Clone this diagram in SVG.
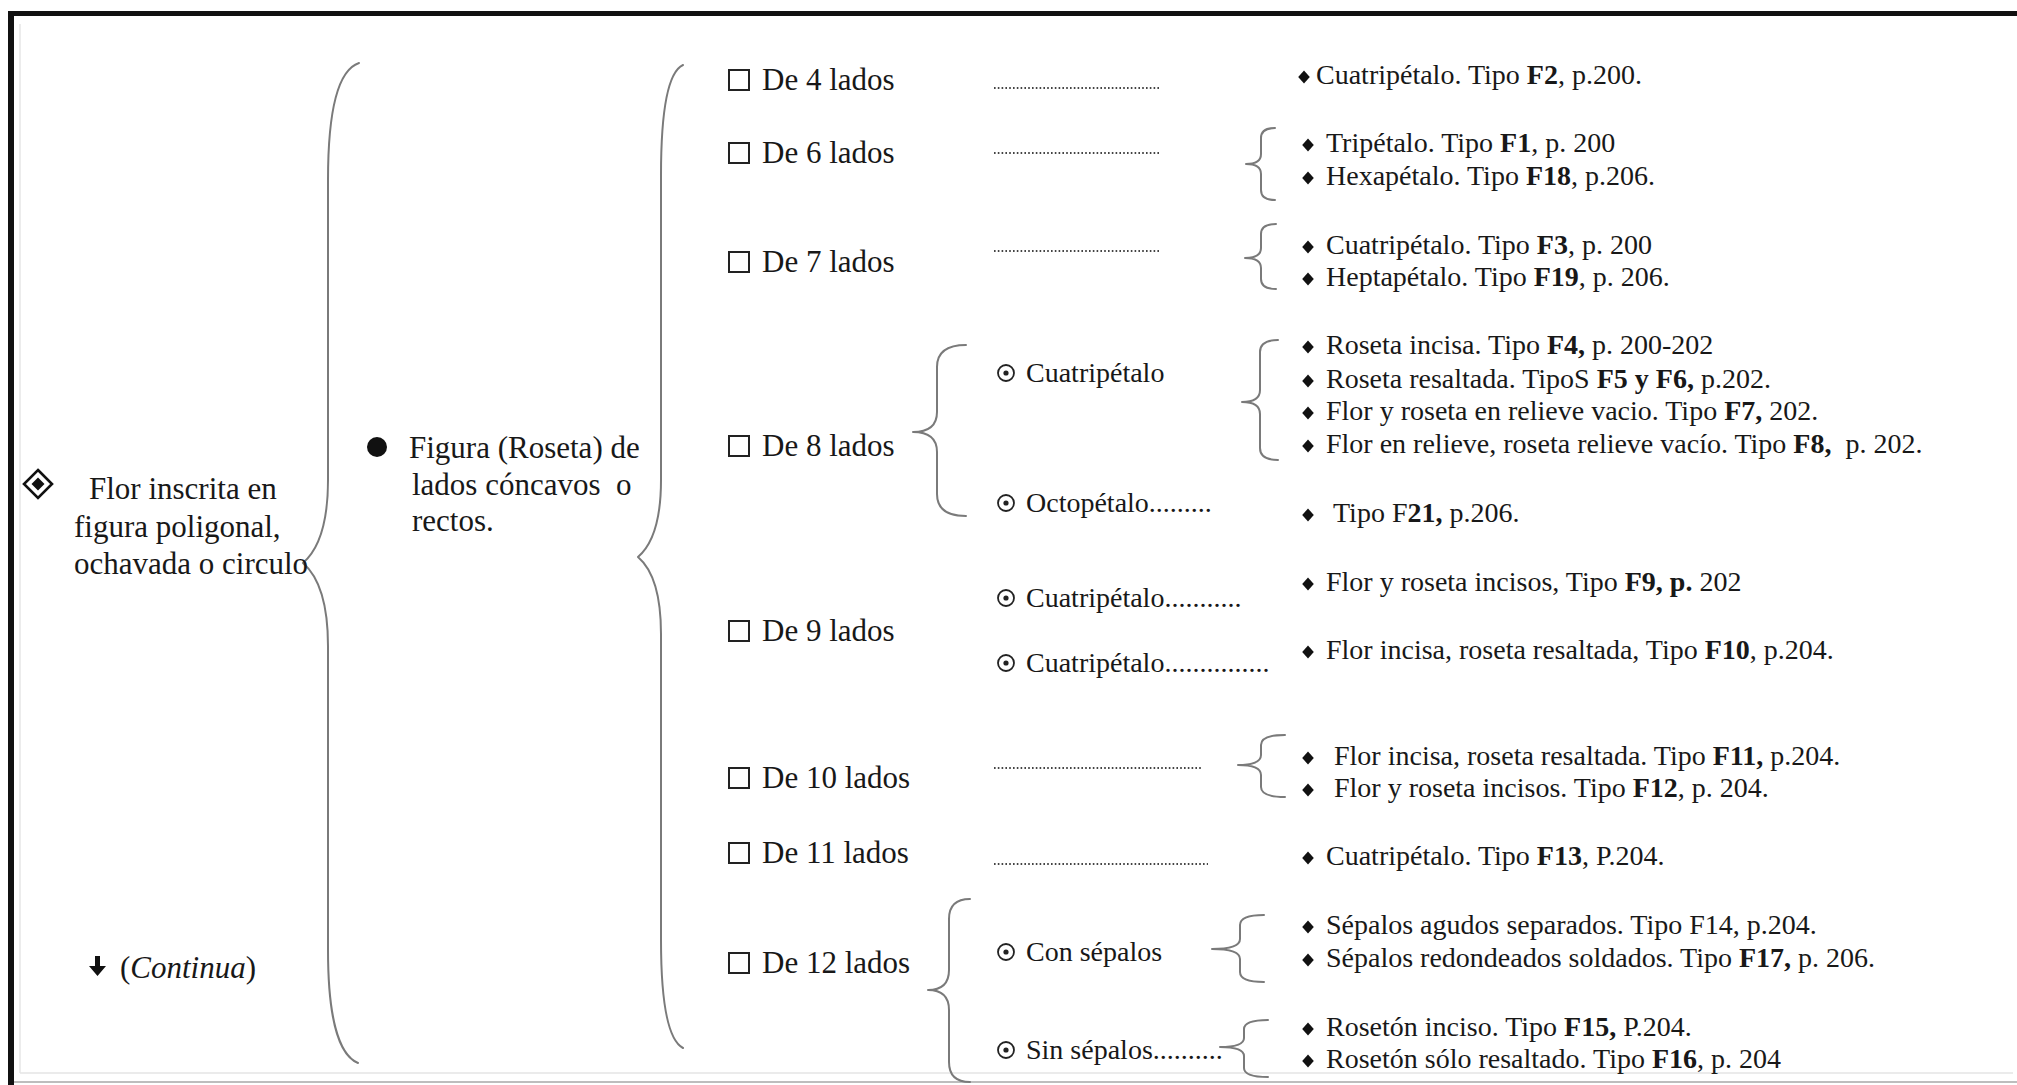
<svg xmlns="http://www.w3.org/2000/svg" xmlns:xlink="http://www.w3.org/1999/xlink" width="2017" height="1085" viewBox="0 0 2017 1085">
<style>
.t{font-family:"Liberation Serif","Times New Roman",serif;fill:#181818;white-space:pre}
.m{font-size:31px}
.s{font-size:28px}
.b{font-weight:bold}
.i{font-style:italic}
.brace{fill:none;stroke:#7a7a7a;stroke-width:2;stroke-linecap:round;stroke-linejoin:round}
.lead{stroke:#444;stroke-width:1.8;stroke-dasharray:1.6 2.2}
</style>
<defs>
<polygon id="dia" points="0,-6.5 5.8,0 0,6.5 -5.8,0" fill="#111"/>
<g id="odot"><circle r="8" fill="none" stroke="#222" stroke-width="1.8"/><circle r="2.6" fill="#222"/></g>
<rect id="sq" x="-10" y="-10" width="20" height="20" fill="none" stroke="#222" stroke-width="2"/>
</defs>
<rect width="2017" height="1085" fill="#fff"/>
<g id="frame">
<line x1="20" y1="1073" x2="2013" y2="1073" stroke="#e4e4e4" stroke-width="1.5"/>
<line x1="20" y1="24" x2="20" y2="1073" stroke="#e6e6e6" stroke-width="1.5"/>
<line x1="8" y1="1082" x2="2017" y2="1082" stroke="#bdbdbd" stroke-width="2"/>
<rect x="8" y="11" width="2009" height="5" fill="#111"/>
<rect x="8" y="11" width="6" height="1074" fill="#111"/>
</g>

<g id="connectors">
<path class="brace" d="M359,63 C338,70 328,110 328,180 L328,480 C328,525 318,550 303,563 C318,576 328,600 328,646 L328,950 C328,1015 338,1055 358,1063"/>
<path class="brace" d="M683,65 C668,72 661,110 661,175 L661,480 C661,522 652,545 638,557 C652,569 661,592 661,634 L661,940 C661,1005 668,1040 683,1048"/>
<path class="brace" d="M966,345 Q937,345 937,367 L937,412 Q937,432 913,432 Q937,432 937,452 L937,494 Q937,516 966,516"/>
<path class="brace" d="M970,899 Q949,899 949,919 L949,970 Q949,990 928,990 Q949,990 949,1010 L949,1062 Q949,1082 970,1082"/>
<path class="brace" d="M1275,128 Q1261,128 1261,138 L1261,154 Q1261,164 1246,164 Q1261,164 1261,174 L1261,190 Q1261,200 1275,200"/>
<path class="brace" d="M1276,224 Q1261,224 1261,234 L1261,248 Q1261,258 1245,258 Q1261,258 1261,268 L1261,279 Q1261,289 1276,289"/>
<path class="brace" d="M1278,340 Q1260,340 1260,352 L1260,390 Q1260,402 1242,402 Q1260,402 1260,414 L1260,448 Q1260,460 1278,460"/>
<path class="brace" d="M1285,735 Q1261,735 1261,745 L1261,755 Q1261,765 1238,765 Q1261,765 1261,775 L1261,787 Q1261,797 1285,797"/>
<path class="brace" d="M1264,915 Q1240,915 1240,925 L1240,939 Q1240,949 1212,949 Q1240,949 1240,959 L1240,972 Q1240,982 1264,982"/>
<path class="brace" d="M1268,1020 Q1244,1020 1244,1029 L1244,1038 Q1244,1047 1220,1047 Q1244,1047 1244,1056 L1244,1068 Q1244,1077 1268,1077"/>
<line class="lead" x1="994" y1="88" x2="1160" y2="88"/>
<line class="lead" x1="994" y1="153" x2="1160" y2="153"/>
<line class="lead" x1="994" y1="251" x2="1160" y2="251"/>
<line class="lead" x1="994" y1="768" x2="1202" y2="768"/>
<line class="lead" x1="994" y1="864" x2="1208" y2="864"/>
</g>

<g id="n-flor">
<g transform="translate(38,484)"><polygon points="0,-14 14,0 0,14 -14,0" fill="none" stroke="#111" stroke-width="2.6"/><polygon points="0,-6.5 6.5,0 0,6.5 -6.5,0" fill="#111"/></g>
<text class="t m" x="89" y="499">Flor inscrita en</text>
<text class="t m" x="74" y="537">figura poligonal,</text>
<text class="t m" x="74" y="574">ochavada o circulo</text>
</g>

<g id="n-continua">
<path d="M95,956 h5 v10 h6 l-8.5,10 l-8.5,-10 h6 z" fill="#111"/>
<text class="t m" x="120" y="978">(<tspan class="i">Continua</tspan>)</text>
</g>

<g id="n-figura">
<circle cx="377" cy="447" r="10" fill="#111"/>
<text class="t m" x="409" y="458">Figura (Roseta) de</text>
<text class="t m" x="412" y="495">lados cóncavos  o</text>
<text class="t m" x="412" y="531">rectos.</text>
</g>

<g id="n-lados4"><use href="#sq" x="739" y="80"/><text class="t m" x="762" y="90">De 4 lados</text></g>
<g id="n-lados6"><use href="#sq" x="739" y="153"/><text class="t m" x="762" y="163">De 6 lados</text></g>
<g id="n-lados7"><use href="#sq" x="739" y="262"/><text class="t m" x="762" y="272">De 7 lados</text></g>
<g id="n-lados8"><use href="#sq" x="739" y="446"/><text class="t m" x="762" y="456">De 8 lados</text></g>
<g id="n-lados9"><use href="#sq" x="739" y="631"/><text class="t m" x="762" y="641">De 9 lados</text></g>
<g id="n-lados10"><use href="#sq" x="739" y="778"/><text class="t m" x="762" y="788">De 10 lados</text></g>
<g id="n-lados11"><use href="#sq" x="739" y="853"/><text class="t m" x="762" y="863">De 11 lados</text></g>
<g id="n-lados12"><use href="#sq" x="739" y="963"/><text class="t m" x="762" y="973">De 12 lados</text></g>

<g id="n-cuatri8"><use href="#odot" x="1006" y="373"/><text class="t s" x="1026" y="382">Cuatripétalo</text></g>
<g id="n-octo"><use href="#odot" x="1006" y="503"/><text class="t s" x="1026" y="512">Octopétalo.........</text></g>
<g id="n-cuatri9a"><use href="#odot" x="1006" y="598"/><text class="t s" x="1026" y="607">Cuatripétalo...........</text></g>
<g id="n-cuatri9b"><use href="#odot" x="1006" y="663"/><text class="t s" x="1026" y="672">Cuatripétalo...............</text></g>
<g id="n-con"><use href="#odot" x="1006" y="952"/><text class="t s" x="1026" y="961">Con sépalos</text></g>
<g id="n-sin"><use href="#odot" x="1006" y="1050"/><text class="t s" x="1026" y="1059">Sin sépalos..........</text></g>

<g id="n-f2"><use href="#dia" x="1304" y="77"/><text class="t s" x="1316" y="84">Cuatripétalo. Tipo <tspan class="b">F2</tspan>, p.200.</text></g>
<g id="n-f1-f18">
<use href="#dia" x="1308" y="145"/><text class="t s" x="1326" y="152">Tripétalo. Tipo <tspan class="b">F1</tspan>, p. 200</text>
<use href="#dia" x="1308" y="178"/><text class="t s" x="1326" y="185">Hexapétalo. Tipo <tspan class="b">F18</tspan>, p.206.</text>
</g>
<g id="n-f3-f19">
<use href="#dia" x="1308" y="247"/><text class="t s" x="1326" y="254">Cuatripétalo. Tipo <tspan class="b">F3</tspan>, p. 200</text>
<use href="#dia" x="1308" y="279"/><text class="t s" x="1326" y="286">Heptapétalo. Tipo <tspan class="b">F19</tspan>, p. 206.</text>
</g>
<g id="n-f4-f8">
<use href="#dia" x="1308" y="347"/><text class="t s" x="1326" y="354">Roseta incisa. Tipo <tspan class="b">F4,</tspan> p. 200-202</text>
<use href="#dia" x="1308" y="381"/><text class="t s" x="1326" y="388">Roseta resaltada. TipoS <tspan class="b">F5 y F6,</tspan> p.202.</text>
<use href="#dia" x="1308" y="413"/><text class="t s" x="1326" y="420">Flor y roseta en relieve vacio. Tipo <tspan class="b">F7,</tspan> 202.</text>
<use href="#dia" x="1308" y="446"/><text class="t s" x="1326" y="453">Flor en relieve, roseta relieve vacío. Tipo <tspan class="b">F8,</tspan>  p. 202.</text>
</g>
<g id="n-f21"><use href="#dia" x="1308" y="515"/><text class="t s" x="1333" y="522">Tipo F<tspan class="b">21,</tspan> p.206.</text></g>
<g id="n-f9"><use href="#dia" x="1308" y="584"/><text class="t s" x="1326" y="591">Flor y roseta incisos, Tipo <tspan class="b">F9, p.</tspan> 202</text></g>
<g id="n-f10"><use href="#dia" x="1308" y="652"/><text class="t s" x="1326" y="659">Flor incisa, roseta resaltada, Tipo <tspan class="b">F10</tspan>, p.204.</text></g>
<g id="n-f11-f12">
<use href="#dia" x="1308" y="758"/><text class="t s" x="1334" y="765">Flor incisa, roseta resaltada. Tipo <tspan class="b">F11,</tspan> p.204.</text>
<use href="#dia" x="1308" y="790"/><text class="t s" x="1334" y="797">Flor y roseta incisos. Tipo <tspan class="b">F12</tspan>, p. 204.</text>
</g>
<g id="n-f13"><use href="#dia" x="1308" y="858"/><text class="t s" x="1326" y="865">Cuatripétalo. Tipo <tspan class="b">F13</tspan>, P.204.</text></g>
<g id="n-f14-f17">
<use href="#dia" x="1308" y="927"/><text class="t s" x="1326" y="934">Sépalos agudos separados. Tipo F14, p.204.</text>
<use href="#dia" x="1308" y="960"/><text class="t s" x="1326" y="967">Sépalos redondeados soldados. Tipo <tspan class="b">F17,</tspan> p. 206.</text>
</g>
<g id="n-f15-f16">
<use href="#dia" x="1308" y="1029"/><text class="t s" x="1326" y="1036">Rosetón inciso. Tipo <tspan class="b">F15,</tspan> P.204.</text>
<use href="#dia" x="1308" y="1061"/><text class="t s" x="1326" y="1068">Rosetón sólo resaltado. Tipo <tspan class="b">F16</tspan>, p. 204</text>
</g>
</svg>
